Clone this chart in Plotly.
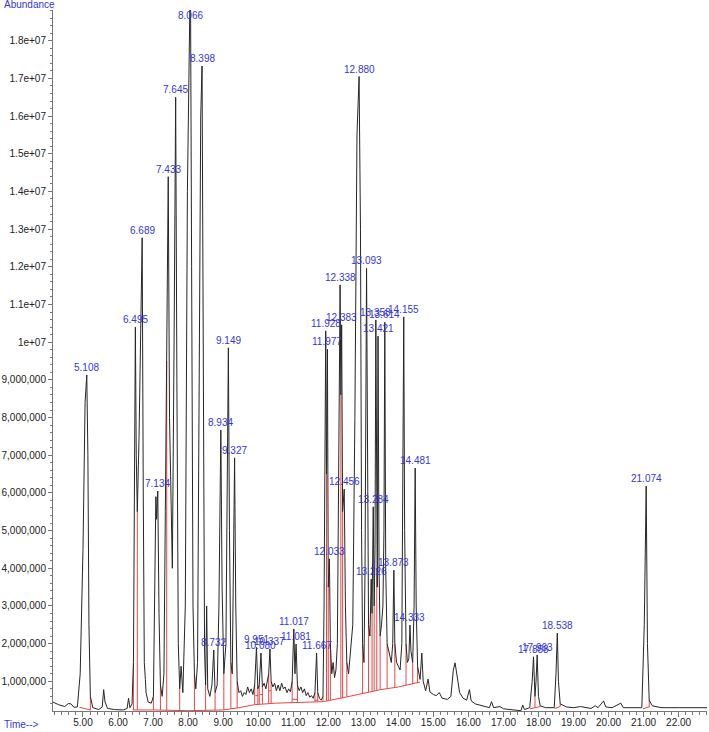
import plotly.graph_objects as go

# ---------------- chromatogram trace (time in min, abundance in millions) ----------------
seg_a_t = [4.14, 4.30, 4.48, 4.58, 4.66, 4.74, 4.84, 4.92, 5.00, 5.06, 5.108, 5.14, 5.17, 5.21, 5.28, 5.45, 5.55, 5.59, 5.63, 5.70, 5.90, 6.15, 6.26, 6.30, 6.34, 6.40]
seg_a_v = [0.45, 0.38, 0.33, 0.41, 0.40, 0.31, 0.32, 1.20, 4.50, 8.40, 9.13, 7.00, 2.50, 0.60, 0.30, 0.25, 0.32, 0.78, 0.45, 0.28, 0.25, 0.24, 0.28, 0.55, 0.30, 0.40]

seg_b_t = [6.44, 6.47, 6.495, 6.52, 6.55, 6.60, 6.65, 6.689, 6.72, 6.75, 6.78, 6.80, 6.86, 6.95, 7.01, 7.05, 7.08, 7.10, 7.134, 7.17, 7.21, 7.26]
seg_b_v = [1.50, 6.00, 10.40, 7.00, 5.50, 7.50, 11.00, 12.77, 6.00, 1.50, 1.05, 0.70, 0.45, 0.42, 0.60, 3.00, 5.90, 5.30, 6.05, 2.80, 0.90, 0.60]

seg_c_t = [7.31, 7.35, 7.39, 7.433, 7.47, 7.55, 7.60, 7.645, 7.68, 7.72, 7.76, 7.80, 7.85, 7.92, 7.98, 8.03, 8.066, 8.10, 8.14, 8.18, 8.22, 8.27, 8.32, 8.36, 8.398, 8.43, 8.47, 8.50]
seg_c_v = [1.20, 5.50, 9.50, 14.39, 8.00, 4.00, 10.00, 16.50, 9.00, 2.00, 0.80, 1.40, 0.70, 3.00, 14.00, 19.50, 20.00, 12.00, 3.00, 1.20, 0.80, 1.50, 8.00, 16.00, 17.33, 8.00, 1.80, 0.90]

seg_d_t = [8.53, 8.56, 8.62, 8.68, 8.732, 8.77, 8.83, 8.88, 8.934, 8.97, 9.02, 9.08, 9.12, 9.149, 9.18, 9.22, 9.26, 9.30, 9.327, 9.36, 9.40, 9.45]
seg_d_v = [3.00, 0.80, 0.60, 0.90, 1.83, 0.70, 0.90, 3.00, 7.67, 3.50, 1.20, 2.00, 8.00, 9.85, 5.00, 1.50, 1.20, 4.00, 6.93, 3.00, 1.00, 0.70]

seg_e_t = [9.50, 9.55, 9.60, 9.65, 9.70, 9.75, 9.80, 9.85, 9.90, 9.951, 9.99, 10.03, 10.08, 10.12, 10.17,
           10.22, 10.27, 10.30, 10.337, 10.37, 10.42, 10.47, 10.52, 10.57, 10.62, 10.67, 10.72, 10.77, 10.82, 10.87,
           10.92, 10.97, 11.017, 11.05, 11.081, 11.12, 11.17, 11.22, 11.27, 11.32, 11.37, 11.42, 11.47, 11.52, 11.57,
           11.62, 11.667, 11.70, 11.75, 11.80, 11.85]
seg_e_v = [0.75, 0.60, 0.70, 0.65, 0.85, 0.70, 0.80, 0.65, 0.90, 1.90, 0.80, 0.90, 1.75, 0.85, 0.95,
           0.80, 1.00, 1.20, 1.86, 1.00, 0.85, 0.95, 0.75, 0.90, 0.75, 0.95, 0.80, 0.85, 0.70, 0.80,
           0.72, 1.00, 2.39, 1.20, 1.99, 0.90, 0.75, 0.85, 0.70, 0.80, 0.62, 0.70, 0.58, 0.62, 0.55,
           0.70, 1.75, 0.70, 0.55, 0.50, 0.60]

seg_f_t = [11.88, 11.928, 11.95, 11.977, 12.00, 12.033, 12.06, 12.10, 12.14, 12.18, 12.22, 12.26, 12.30, 12.338, 12.36, 12.383, 12.41, 12.456, 12.49, 12.53, 12.58, 12.63, 12.70]
seg_f_v = [3.00, 10.30, 6.50, 9.81, 3.50, 4.25, 2.00, 1.20, 1.50, 1.10, 1.30, 2.00, 6.00, 11.52, 8.60, 10.46, 5.50, 6.10, 3.00, 1.50, 1.20, 1.80, 2.50]

seg_g_t = [12.76, 12.82, 12.88, 12.92, 12.95, 12.98, 13.02, 13.05, 13.093, 13.12,
           13.15, 13.19, 13.226, 13.25, 13.284, 13.31, 13.335, 13.358, 13.385, 13.40,
           13.421, 13.45, 13.48, 13.52, 13.56, 13.59, 13.614, 13.64, 13.68, 13.72,
           13.76, 13.80, 13.84, 13.873, 13.90, 13.95, 14.00, 14.05, 14.10, 14.13,
           14.155, 14.18, 14.22, 14.26, 14.30, 14.333, 14.36, 14.41, 14.45, 14.481,
           14.51, 14.55, 14.60]
seg_g_v = [8.00, 15.50, 17.05, 13.00, 5.00, 2.00, 1.50, 4.00, 11.96, 5.00,
           2.50, 2.20, 3.71, 2.80, 5.63, 3.00, 4.50, 10.59, 4.00, 3.50,
           10.16, 4.00, 2.20, 2.50, 3.00, 5.00, 10.53, 4.00, 2.00, 1.80,
           1.60, 1.50, 2.00, 3.95, 2.00, 1.50, 1.40, 1.30, 2.00, 6.00,
           10.67, 5.00, 2.00, 1.50, 1.60, 2.49, 1.80, 1.50, 3.00, 6.66,
           3.00, 1.40, 1.20]

seg_h_t = [14.62, 14.67, 14.71, 14.78, 14.85, 14.90, 15.00, 15.08, 15.17, 15.25,
           15.40, 15.50, 15.57, 15.62, 15.68, 15.75, 15.85, 15.95, 16.03, 16.08,
           16.20, 16.40, 16.60, 16.66, 16.72, 16.90, 17.00, 17.30, 17.50, 17.55,
           17.60, 17.75, 17.82, 17.858, 17.90, 17.93, 17.963, 18.00, 18.05, 18.20,
           18.45, 18.50, 18.538, 18.57, 18.62, 18.80, 19.00, 19.20, 19.50, 19.62,
           19.70, 19.86, 19.92, 20.10, 20.35, 20.42, 20.70, 20.95, 21.02, 21.074,
           21.11, 21.16, 21.25, 21.50, 22.00, 22.50, 22.85]
seg_h_v = [1.05, 1.75, 1.00, 0.75, 1.06, 0.72, 0.65, 0.62, 0.70, 0.55,
           0.52, 0.60, 1.30, 1.49, 1.10, 0.70, 0.55, 0.50, 0.78, 0.48,
           0.40, 0.35, 0.30, 0.46, 0.30, 0.33, 0.27, 0.24, 0.22, 0.37,
           0.25, 0.30, 1.00, 1.65, 0.60, 1.00, 1.70, 0.60, 0.35, 0.30,
           0.30, 1.20, 2.28, 1.00, 0.40, 0.32, 0.30, 0.33, 0.28, 0.35,
           0.30, 0.48, 0.32, 0.30, 0.42, 0.30, 0.29, 0.30, 2.50, 6.18,
           2.00, 0.50, 0.35, 0.30, 0.30, 0.30, 0.30]

# ---------------- integration baseline (red) ----------------
base_main_t = [6.42, 7.00, 8.00, 9.00, 9.45, 9.90, 10.50, 11.00, 11.86, 12.50, 13.00, 13.50, 14.00, 14.62]
base_main_v = [0.24, 0.24, 0.22, 0.24, 0.30, 0.38, 0.42, 0.44, 0.46, 0.58, 0.68, 0.78, 0.85, 0.98]
base_small_t = [(4.90, 5.22), (9.92, 10.00), (10.05, 10.12), (10.30, 10.37), (10.98, 11.12),
                (11.62, 11.70), (17.76, 18.05), (18.46, 18.62), (20.98, 21.18)]
base_small_v = [(0.31, 0.24), (0.62, 0.62), (0.65, 0.65), (0.75, 0.75), (0.52, 0.52),
                (0.50, 0.50), (0.27, 0.33), (0.28, 0.33), (0.27, 0.33)]

# drop lines: time (a point of the trace) and bottom value on the baseline
drop_t = [5.21, 6.44, 6.55, 7.01, 7.21, 7.39, 7.76, 8.18, 8.50, 8.77, 9.02, 9.22, 9.40, 9.90, 9.99,
          10.03, 10.12, 10.30, 10.37, 10.97, 11.12, 11.62, 11.70, 11.85, 11.95, 12.00, 12.06, 12.36, 12.41,
          12.53, 12.98, 13.15, 13.25, 13.31, 13.385, 13.48, 13.68, 13.90, 14.22, 14.41, 14.55, 17.90, 18.05,
          18.62, 21.16]
drop_lo = [0.24, 0.24, 0.24, 0.24, 0.24, 0.23, 0.23, 0.22, 0.23, 0.23, 0.24, 0.27, 0.29, 0.38, 0.39,
           0.39, 0.40, 0.41, 0.41, 0.44, 0.44, 0.45, 0.45, 0.46, 0.48, 0.49, 0.50, 0.55, 0.56,
           0.59, 0.68, 0.71, 0.73, 0.74, 0.76, 0.78, 0.81, 0.84, 0.89, 0.92, 0.95, 0.30, 0.33,
           0.33, 0.33]

# ---------------- peak labels ----------------
peak_labels = ["5.108", "6.495", "6.689", "7.134", "7.433", "7.645", "8.066", "8.398", "8.732", "8.934",
               "9.149", "9.327", "9.951", "10.080", "10.337", "11.017", "11.081", "11.667", "11.928", "11.977",
               "12.033", "12.338", "12.383", "12.456", "12.880", "13.093", "13.226", "13.284", "13.358", "13.421",
               "13.614", "13.873", "14.155", "14.333", "14.481", "17.858", "17.963", "18.538", "21.074"]
peak_rt = [5.108, 6.495, 6.689, 7.134, 7.433, 7.645, 8.066, 8.398, 8.732, 8.934,
           9.149, 9.327, 9.951, 10.08, 10.337, 11.017, 11.081, 11.667, 11.928, 11.977,
           12.033, 12.338, 12.383, 12.456, 12.88, 13.093, 13.226, 13.284, 13.358, 13.421,
           13.614, 13.873, 14.155, 14.333, 14.481, 17.858, 17.963, 18.538, 21.074]

# ---------------- axis ticks ----------------
x_tickvals = [5, 6, 7, 8, 9, 10, 11, 12, 13, 14, 15, 16, 17, 18, 19, 20, 21, 22]
x_ticktext = ["5.00", "6.00", "7.00", "8.00", "9.00", "10.00", "11.00", "12.00", "13.00", "14.00",
              "15.00", "16.00", "17.00", "18.00", "19.00", "20.00", "21.00", "22.00"]
y_tickvals = [1e6, 2e6, 3e6, 4e6, 5e6, 6e6, 7e6, 8e6, 9e6, 1e7, 1.1e7, 1.2e7, 1.3e7, 1.4e7, 1.5e7, 1.6e7, 1.7e7, 1.8e7]
y_ticktext = ["1,000,000", "2,000,000", "3,000,000", "4,000,000", "5,000,000", "6,000,000", "7,000,000",
              "8,000,000", "9,000,000", "1e+07", "1.1e+07", "1.2e+07", "1.3e+07", "1.4e+07", "1.5e+07",
              "1.6e+07", "1.7e+07", "1.8e+07"]

# ---------------- build ----------------
trace_t = seg_a_t + seg_b_t + seg_c_t + seg_d_t + seg_e_t + seg_f_t + seg_g_t + seg_h_t
trace_v = seg_a_v + seg_b_v + seg_c_v + seg_d_v + seg_e_v + seg_f_v + seg_g_v + seg_h_v
assert len(trace_t) == len(trace_v)
assert len(drop_t) == len(drop_lo)
trace_abund = [v * 1e6 for v in trace_v]
lookup = dict(zip(trace_t, trace_abund))

Y_MIN, Y_MAX = 0.212e6, 18.815e6
X_MIN, X_MAX = 4.144, 22.81

BLUE = "#3535e0"
RED = "rgb(232,70,70)"
FONT = "Liberation Sans, Arial, sans-serif"

red_x, red_y = [], []
red_x += base_main_t + [None]
red_y += [v * 1e6 for v in base_main_v] + [None]
for (t0, t1), (v0, v1) in zip(base_small_t, base_small_v):
    red_x += [t0, t1, None]
    red_y += [v0 * 1e6, v1 * 1e6, None]
for t, lo in zip(drop_t, drop_lo):
    red_x += [t, t, None]
    red_y += [lo * 1e6, lookup[t], None]

fig = go.Figure()
fig.add_trace(go.Scatter(x=red_x, y=red_y, mode="lines",
                         line=dict(color=RED, width=1), hoverinfo="skip", showlegend=False))
fig.add_trace(go.Scatter(x=trace_t, y=trace_abund, mode="lines",
                         line=dict(color="#262626", width=1), showlegend=False))

label_cap = 18.47e6
for lab, rt in zip(peak_labels, peak_rt):
    y = min(lookup[rt], label_cap)
    fig.add_annotation(x=rt, y=y, text=lab, showarrow=False, xanchor="center", yanchor="bottom",
                       font=dict(family=FONT, size=10, color=BLUE), borderpad=0, yshift=1)

plot_w = 709 - 53 - 2
plot_h = 732 - 10 - 21
fig.add_annotation(xref="paper", yref="paper", x=-51 / plot_w, y=1 + 5 / plot_h, text="Abundance",
                   showarrow=False, xanchor="left", yanchor="middle",
                   font=dict(family=FONT, size=10, color=BLUE))
fig.add_annotation(xref="paper", yref="paper", x=-51 / plot_w, y=-13 / plot_h, text="Time-->",
                   showarrow=False, xanchor="left", yanchor="middle",
                   font=dict(family=FONT, size=10, color=BLUE))

fig.update_layout(
    width=709, height=732,
    margin=dict(l=53, r=2, t=10, b=21),
    paper_bgcolor="white", plot_bgcolor="white",
    font=dict(family=FONT, size=10, color="#222"),
    showlegend=False,
)
fig.update_xaxes(range=[X_MIN, X_MAX], tickvals=x_tickvals, ticktext=x_ticktext,
                 showgrid=False, zeroline=False, showline=True, linecolor="#777", linewidth=1,
                 ticks="outside", ticklen=5, tickcolor="#777", ticklabelstandoff=-3,
                 minor=dict(dtick=0.2, tick0=5, ticks="outside", ticklen=3, tickcolor="#777", showgrid=False),
                 tickfont=dict(family=FONT, size=10, color="#222"))
fig.update_yaxes(range=[Y_MIN, Y_MAX], tickvals=y_tickvals, ticktext=y_ticktext,
                 showgrid=False, zeroline=False, showline=True, linecolor="#777", linewidth=1,
                 ticks="outside", ticklen=4, tickcolor="#777",
                 minor=dict(dtick=2e5, tick0=0, ticks="outside", ticklen=2, tickcolor="#777", showgrid=False),
                 tickfont=dict(family=FONT, size=10, color="#222"))

fig.write_html("out.html", config={"displayModeBar": False},
               post_script="document.body.style.margin='0px';document.body.style.overflow='hidden';")
